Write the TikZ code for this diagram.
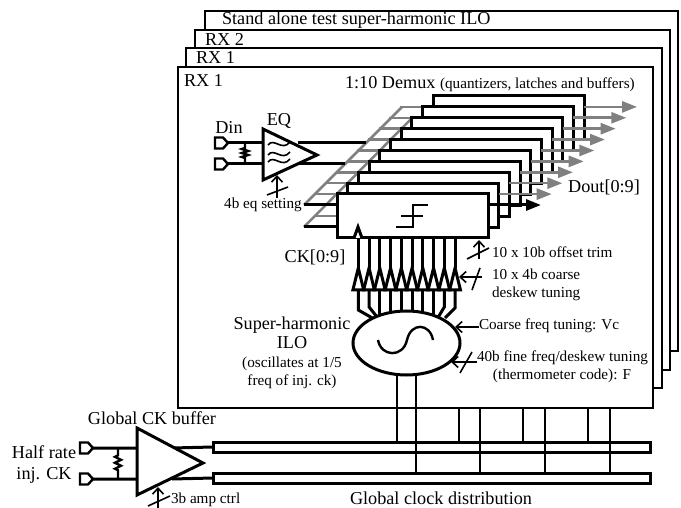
\documentclass[tikz,border=0pt]{standalone}
\usepackage{fontspec}
\setmainfont{Liberation Serif}
\usetikzlibrary{arrows.meta,positioning,shapes.geometric,calc}

\begin{document}
\begin{tikzpicture}[
  x=1pt,y=-1pt,
  every node/.style={align=center,inner sep=0pt,outer sep=0pt},
  big/.style={font=\fontsize{18.2}{20}\selectfont},
  mid/.style={font=\fontsize{15.2}{18}\selectfont},
  frame/.style={draw,fill=white,line width=1.5pt},
  wire/.style={line width=2.4pt},
  thick wire/.style={line width=3pt},
  rail/.style={draw=gray,line width=2.5pt},
  outarr/.style={draw=gray,line width=2.6pt,-{Triangle[length=15pt,width=11pt]}},
  ctrl/.style={line width=1.6pt,-{Straight Barb[length=6pt,width=11pt]}},
  slash/.style={line width=1.6pt},
  slice/.style={draw,fill=white,line width=3pt,minimum width=151pt,minimum height=44pt},
  bus/.style={draw,fill=white,line width=3pt,minimum width=437pt,minimum height=10pt},
  port/.pic={\draw[wire,fill=white] (-13,-5.5) -- (-5,-5.5) -- (0,0) -- (-5,5.5) -- (-13,5.5) -- cycle;},
  resistor/.pic={\draw[wire] (0,0) -- (0,5) -- (-3,6) -- (3,8) -- (-3,10) -- (3,12) -- (-3,14) -- (0,15) -- (0,21);}
]
\useasboundingbox (0,0) rectangle (681,508);
% --- stacked receivers ---
\draw[frame] (205,11) rectangle (678,351);
\draw[frame] (195,30) rectangle (670,370);
\draw[frame] (186,48) rectangle (662,388);
\draw[frame] (178,67) rectangle (653,408);
\node[big,anchor=west] (alone) at (222,20) {Stand alone test super-harmonic ILO};
\node[big,anchor=west] (rxb) at (205,39) {RX 2};
\node[big,anchor=west] (rxa) at (196,57) {RX 1};
\node[big,anchor=west] (rx) at (184,80) {RX 1};
\node[big,anchor=west] (demux) at (345,84) {1:10 Demux \fontsize{15.2}{18}\selectfont(quantizers, latches and buffers)};
% --- gray input ladder ---
\coordinate (railA) at (304,205);
\coordinate (railB) at (304,227);
\draw[rail] (railA) -- (402,107);
\draw[rail] (railB) -- (412,118);
\draw[rail] (315,216) -- ++(22,0);
\foreach \k in {1,...,9}
  \draw[rail] ({304+\k*10.67},{205-\k*10.9}) -- ++(33,0);
% --- demux slices, back to front ---
\foreach \k in {9,8,...,1}{
  \node[slice,anchor=north west] (slice\k) at ({337+\k*10.67},{194-\k*10.9}) {};
  \draw[outarr] ([yshift=-11pt]slice\k.north east) -- ++(53,0);
}
\node[slice,anchor=north west] (slice0) at (337,194) {};
\draw[thick wire,-{Triangle[length=15pt,width=11pt]}] ([yshift=-11pt]slice0.north east) -- ++(53,0);
\draw[thick wire] (railA) -- (railA -| slice0.west);
\draw[thick wire] (railB) -- (railB -| slice0.west);
\draw[line width=1.7pt] (396,227) -- (413,227) -- (413,205) -- (428,205) (401,216) -- (423,216);
\draw[thick wire,fill=white] (354,238) -- (358,227) -- (362,238);
\node[big] (dout) at (604,187) {Dout[0:9]};
% --- equalizer ---
\coordinate (dinA) at (228,143);
\coordinate (dinB) at (228,164);
\pic at (dinA) {port};
\pic at (dinB) {port};
\draw[thick wire] (dinA) -- (263,143) (dinB) -- (263,164) (298,143) -- (366,143) (298,164) -- (345,164);
\pic at (245,143) {resistor};
\coordinate (eqtip) at (317,155);
\draw[thick wire,fill=white,line join=miter] (263,129) -- (eqtip) -- (263,180) -- cycle;
\foreach \y in {145,155,162}
  \draw[line width=1.6pt] (268,\y) .. controls (274,{\y-8}) and (282,{\y+7}) .. (290,{\y-3});
\node[big] (din) at (229,127) {Din};
\node[big] (eq) at (279,121) {EQ};
\node[mid] (eqset) at (263,205) {4b eq setting};
\draw[ctrl] (277,198) -- (277,175);
\draw[slash] (267,195) -- (288,187);
% --- clock lines and buffers ---
\foreach \i in {0,...,9}{
  \coordinate (ck\i) at ({358.3+\i*10.75},238);
  \draw[thick wire] (ck\i) -- ++(0,30);
}
\foreach \i in {2,...,7}
  \draw[thick wire] (ck\i) ++(0,52) -- ++(0,24);
\draw[thick wire] (ck0) ++(0,52) -- ++(0,20) -- ++(14,8);
\draw[thick wire] (ck1) ++(0,52) -- ++(0,17) -- ++(8,10);
\draw[thick wire] (ck8) ++(0,52) -- ++(0,17) -- ++(-6,10);
\draw[thick wire] (ck9) ++(0,52) -- ++(0,18) -- ++(-10,10);
\foreach \i in {0,...,9}
  \draw[thick wire,fill=white,line join=miter] (ck\i) ++(0,30) -- ++(5.4,22) -- ++(-10.8,0) -- cycle;
\node[big] (ckname) at (315,257) {CK[0:9]};
% --- super-harmonic oscillator ---
\node[draw,ellipse,fill=white,line width=3pt,minimum width=107pt,minimum height=64pt] (osc) at (406.5,343) {};
\draw[line width=2.4pt] (378,340) .. controls (381,357) and (403,358) .. (407,340) .. controls (411,322) and (430,323) .. (433,340);
\node[big] (shname) at (292,325) {Super-harmonic};
\node[big] (iloname) at (292,343) {ILO};
\node[mid] (oscnote) at (292,373) {(oscillates at 1/5\\freq of inj. ck)};
% --- tuning controls ---
\node[mid,anchor=west] (trim) at (492,252) {10 x 10b offset trim};
\node[mid,anchor=west,align=left] (coarse) at (492,285) {10 x 4b coarse\\deskew tuning};
\draw[ctrl] (479,259) -- (479,240);
\draw[slash] (467,259) -- (489,248);
\draw[ctrl] (482,277) -- (459,277);
\draw[slash] (472,290) -- (480,268);
\node[mid,anchor=west] (vc) at (479,326) {Coarse freq tuning: Vc};
\draw[ctrl] (vc.west |- 0,327) -- (455,327);
\node[mid,anchor=west] (fine) at (477,358) {40b fine freq/deskew tuning};
\node[mid] (thermo) at (562,376) {(thermometer code): F};
\draw[ctrl] (fine.west) ++(0,4) -- (451,362);
\draw[slash] (460,373) -- (472,352);
% --- global clock ---
\node[bus,anchor=west] (busup) at (213,447) {};
\node[bus,anchor=west] (busdn) at (213,478) {};
\draw[wire] (397,375) -- (397,442);
\draw[wire] (416,375) -- (416,473);
\foreach \x/\y in {459/442,480/473,523/442,545/473,588/442,610/473}
  \draw[wire] (\x,408) -- (\x,\y);
\coordinate (hrA) at (93,448);
\coordinate (hrB) at (93,479);
\pic at (hrA) {port};
\pic at (hrB) {port};
\draw[thick wire] (hrA) -- (137,448) (hrB) -- (137,479) (172,448) -- (busup.west) (172,479) -- (busdn.west);
\pic[yscale=1.48] at (118,448) {resistor};
\draw[thick wire,fill=white,line join=miter] (137,428) -- (203,463) -- (137,495) -- cycle;
\draw[ctrl] (158,508) -- (158,487);
\draw[slash] (148,506) -- (170,496);
\node[big] (bufname) at (152,418) {Global CK buffer};
\node[big] (halfrate) at (44,452) {Half rate};
\node[big] (injck) at (44,475) {inj. CK};
\node[mid,anchor=west] (ampctrl) at (171,500) {3b amp ctrl};
\node[big] (distname) at (441,498) {Global clock distribution};
\end{tikzpicture}
\end{document}
